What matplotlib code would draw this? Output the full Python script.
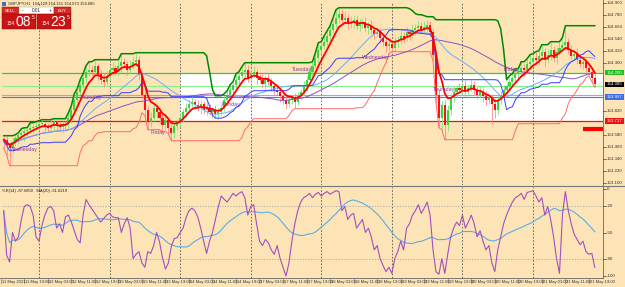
import numpy as np
import pandas as pd
import matplotlib
matplotlib.use("Agg")
import matplotlib.pyplot as plt
from matplotlib.patches import Rectangle

# ---------------- data ----------------
close = [153.53,153.48,153.45,153.51,153.55,153.58,153.60,153.62,153.63,153.65,153.66,153.67,153.69,
         153.69,153.67,153.65,153.68,153.71,153.67,153.66,153.69,
         153.68,153.75,153.83,153.93,154.01,154.08,154.15,154.21,154.23,
         154.21,154.27,154.19,154.13,154.11,154.17,154.23,154.25,154.21,154.27,154.31,154.29,154.23,154.27,154.31,154.33,
         154.18,153.98,153.83,153.71,153.75,
         153.85,153.81,153.75,153.68,153.73,
         153.65,153.60,153.67,153.71,
         153.75,153.81,153.85,153.89,153.91,
         153.88,153.85,153.89,153.83,153.85,153.81,153.83,153.79,
         153.81,153.85,153.93,
         153.98,154.03,154.08,154.13,154.17,154.21,154.23,
         154.15,154.19,154.21,154.15,
         154.13,154.09,154.15,154.11,154.07,154.03,154.01,153.97,153.93,153.89,153.93,153.95,153.91,153.97,
         154.01,154.07,154.13,154.21,154.27,154.35,154.43,154.47,154.51,154.57,154.63,154.69,154.75,154.79,
         154.73,154.75,154.69,154.71,154.73,154.67,154.69,154.71,154.65,154.67,154.63,154.59,154.61,
         154.55,154.51,154.47,154.49,154.45,154.51,154.53,
         154.57,154.55,154.61,154.59,154.63,154.65,154.67,154.63,154.66,154.68,
         154.61,154.38,153.98,153.75,153.88,153.68,
         153.83,153.95,154.01,154.05,154.03,154.07,154.01,154.05,154.08,154.03,153.98,154.01,153.97,153.93,153.95,153.89,153.83,153.93,
         153.98,154.03,154.07,154.11,154.15,154.19,154.21,154.25,154.23,154.29,154.31,154.35,154.33,
         154.37,154.41,154.33,154.38,154.43,154.35,154.41,154.45,154.48,154.51,
         154.43,154.37,154.39,154.33,154.29,154.31,154.25,154.21,154.15,154.085]

# wick lengths in price points (1 = 0.01)
wick_up = [3,4,2,5,3,2,4,3,2,5,3,4,3,
           4,2,3,5,3,2,4,3,
           3,5,4,6,3,5,4,6,8,
           5,6,3,4,7,5,4,6,3,5,8,4,3,6,5,7,
           4,3,5,4,6,
           5,3,4,6,4,
           3,4,5,3,
           4,3,5,4,6,
           3,5,4,3,6,4,3,5,
           4,3,6,
           4,5,3,6,4,5,7,
           5,4,6,3,
           4,6,3,5,4,3,5,4,3,6,4,3,5,4,
           3,5,4,6,4,5,7,4,6,5,4,6,8,6,
           5,7,4,6,5,4,6,3,5,4,6,3,5,
           4,3,5,4,3,5,4,
           6,4,5,3,6,4,5,4,6,5,
           4,3,5,6,4,5,
           5,4,6,3,5,4,6,3,5,4,3,6,4,5,3,4,6,5,
           4,5,3,6,4,5,3,6,4,5,7,4,6,
           5,7,4,6,8,4,5,6,7,16,
           4,5,3,6,4,5,3,4,3,4]
wick_dn = [8,10,18,5,4,6,4,8,5,3,5,4,3,
           3,5,4,3,6,4,3,5,
           4,3,5,3,6,4,3,5,4,
           4,3,6,4,5,3,4,5,3,4,6,3,5,4,3,4,
           5,4,6,8,5,
           4,6,5,7,5,
           6,8,5,4,
           5,4,6,3,4,
           4,3,6,4,5,3,6,4,
           5,4,3,
           3,4,5,3,4,3,5,
           4,5,3,6,
           3,4,6,3,5,4,3,6,4,5,3,4,6,3,
           4,3,5,3,4,3,5,4,3,4,5,3,4,5,
           4,3,5,4,6,3,5,4,3,6,4,5,3,
           5,4,6,5,4,3,5,
           4,5,3,6,4,5,3,4,3,4,
           4,6,8,10,12,15,
           6,5,4,6,3,5,4,6,3,5,4,3,6,5,4,20,8,4,
           4,3,5,4,3,5,4,3,6,4,5,3,4,
           5,4,6,3,5,4,6,3,4,5,
           4,3,5,4,3,5,4,3,4,3]

# Williams %R(14) values
wpr = [-25,-76,-84,-50,-60,-55,-35,-20,-18,-20,-30,-55,-60,-42,-30,-22,-20,-25,-45,-40,
       -50,-32,-30,-38,-48,-58,-62,-30,-12,-18,-23,-28,-33,-38,-34,-30,-28,-32,-33,-33,
       -50,-40,-33,-45,-80,-75,-72,-85,-90,-72,-74,-65,-50,-61,-79,-92,-85,-66,-57,-56,
       -50,-45,-33,-25,-22,-25,-32,
       -45,-60,-74,-60,-50,
       -35,-20,-8,-12,
       -15,-10,-5,-8,-5,-3,-10,-30,-20,-18,-40,
       -60,-65,-58,-62,-70,-75,-65,-80,
       -90,-100,-85,-60,
       -40,-25,-15,-10,-8,-5,-10,-6,-4,-8,-5,-3,-6,-4,-2,-3,
       -25,-20,-35,-30,-28,-45,-40,-35,-50,-45,-55,-70,-65,
       -80,-88,-95,-90,-97,-80,-72,
       -60,-70,-45,-40,-30,-25,-18,-28,-22,-15,
       -30,-70,-95,-98,-80,-97,
       -75,-55,-45,-38,-42,-30,-45,-38,-30,-40,-55,-48,-60,-70,-65,-85,-95,-70,
       -55,-40,-30,-22,-15,-10,-8,-5,-12,-4,-3,-2,-8,
       -15,-10,-30,-20,-35,-55,-80,-97,-30,-3,
       -25,-40,-52,-58,-64,-60,-72,-75,-74,-90]

time_labels = ["11 May 2021","11 May 19:00","12 May 03:00","12 May 11:00","12 May 19:00",
               "13 May 03:00","13 May 11:00","13 May 19:00","14 May 03:00","14 May 11:00",
               "14 May 19:00","17 May 03:00","17 May 11:00","17 May 19:00","18 May 03:00",
               "18 May 11:00","18 May 19:00","19 May 03:00","19 May 11:00","19 May 19:00",
               "20 May 03:00","20 May 11:00","20 May 19:00","21 May 03:00","21 May 11:00",
               "21 May 19:00"]
day_starts = [12, 36, 60, 84, 108, 132, 156, 180, 204]
day_names = ["Wednesday", "Thursday", "Friday", "Monday", "Tuesday", "Wednesday", "Thursday", "Friday"]
day_name_price = [153.43, 153.95, 153.60, 153.88, 154.23, 154.35, 154.03, 154.23]

price_ticks = [154.900,154.780,154.660,154.540,154.420,154.300,153.820,153.580,153.460,153.340,153.220,153.100]
level_green = 154.200
level_lgreen = 154.067
level_gray = 153.977
level_blue = 153.957
level_red = 153.717
last_price = 154.085
wpr_ticks = [0, -20, -50, -80, -100]

# ---------------- preparation ----------------
n = min(len(close), len(wick_up), len(wick_dn))
close = np.array(close[:n])
opn = np.r_[close[0] + 0.01, close[:-1]]
hi = np.maximum(opn, close) + np.array(wick_up[:n]) / 100
lo = np.minimum(opn, close) - np.array(wick_dn[:n]) / 100
idx = np.arange(n)
s = pd.Series(close)
red_ma = s.ewm(span=6).mean()
upper = pd.Series(hi).rolling(24, min_periods=1).max()
lower = pd.Series(lo).rolling(24, min_periods=1).min()
mid = (upper + lower) / 2
lblue = s.rolling(24, min_periods=1).mean()
purp = s.rolling(48, min_periods=1).mean()
wpr = np.array(wpr[:n], dtype=float)
wpr_ma = pd.Series(wpr).rolling(20, min_periods=1).mean()

BG = "#fde4b6"
W, H = 625, 287
fig = plt.figure(figsize=(W / 100, H / 100), dpi=100)
fig.patch.set_facecolor(BG)
plt.rcParams['font.family'] = ['Liberation Sans', 'DejaVu Sans']

def fx(px): return px / W
def fy(py): return 1 - py / H

XL = (-0.58, 203.8)
ax = fig.add_axes([fx(2), fy(185), fx(603) - fx(2), fy(2) - fy(185)])
ax.set_xlim(*XL); ax.set_ylim(153.077, 154.907)
ax2 = fig.add_axes([fx(2), fy(278), fx(603) - fx(2), fy(187) - fy(278)])
ax2.set_xlim(*XL); ax2.set_ylim(-102.3, 2.3)
for a in (ax, ax2):
    a.set_facecolor(BG)
    for sp in a.spines.values():
        sp.set_visible(False)
    a.set_xticks([]); a.set_yticks([])

# ---- main panel ----
ax.add_patch(Rectangle((60, level_red), 150, level_green - level_red, facecolor="white", edgecolor="none", zorder=0.5))
for d in day_starts:
    ax.axvline(d, color="#555555", lw=0.6, ls=(0, (2, 2)), zorder=0.8)
ax.axhline(level_green, color="#33cc33", lw=0.9, zorder=1)
ax.axhline(level_lgreen, color="#88ee88", lw=0.8, zorder=1)
ax.axhline(level_gray, color="#a8a8c8", lw=0.8, zorder=1)
ax.axhline(level_blue, color="#5070ff", lw=0.8, zorder=1)
ax.axhline(level_red, color="#ee1111", lw=0.9, zorder=1)

upc = close >= opn
ax.vlines(idx, lo, hi, colors=np.where(upc, "#80e080", "#ff8a8a"), lw=0.6, zorder=3)
ax.bar(idx, np.maximum(np.abs(close - opn), 0.006), bottom=np.minimum(opn, close), width=0.72,
       color=np.where(upc, "#3ad63a", "#ff1010"), lw=0, zorder=4)

ax.plot(idx, lower, color="#ff6a6a", lw=0.7, zorder=5)
ax.plot(idx, purp, color="#9050c0", lw=0.7, zorder=5)
ax.plot(idx, lblue, color="#6aaeff", lw=0.7, zorder=5)
ax.plot(idx, mid, color="#3a3aff", lw=0.7, zorder=5)
ax.plot(idx, upper, color="#008800", lw=1.1, zorder=5)
ax.plot(idx, red_ma, color="#ff0000", lw=1.3, zorder=6)

for d, name, p in zip(day_starts, day_names, day_name_price):
    ax.text(d - 10, p, name, color="#8a3aa0", fontsize=3.8, va="center", ha="left", zorder=7)

ax.plot([197, 204], [153.64, 153.64], color="#ff0000", lw=3, solid_capstyle="butt", zorder=7)

# ---- indicator panel ----
for d in day_starts:
    ax2.axvline(d, color="#555555", lw=0.6, ls=(0, (2, 2)), zorder=0.8)
for lv in (-20, -80):
    ax2.axhline(lv, color="#a0a0a0", lw=0.5, ls=(0, (2, 2)), zorder=0.8)
ax2.plot(idx, wpr_ma, color="#5aaee6", lw=0.8, zorder=3)
ax2.plot(idx, wpr, color="#a050c0", lw=0.8, zorder=4)

# ---- overlay for axis labels and decorations ----
ov = fig.add_axes([0, 0, 1, 1])
ov.set_xlim(0, W); ov.set_ylim(H, 0); ov.axis("off"); ov.patch.set_alpha(0)

def py_price(p):
    return 2 + (154.907 - p) / (154.907 - 153.077) * 183

def py_wpr(v):
    return 187 + (2.3 - v) / 104.6 * 91

def px_bar(i):
    return 2 + (i - XL[0]) / (XL[1] - XL[0]) * 601

ov.plot([603, 603], [0, 278], color="#666666", lw=0.6)
ov.plot([0, W], [186, 186], color="#777777", lw=0.8)
ov.plot([0, 603], [278, 278], color="#666666", lw=0.6)

for p in price_ticks:
    y = py_price(p)
    ov.plot([603, 606], [y, y], color="#444444", lw=0.5)
    ov.text(607, y, f"{p:.3f}", fontsize=3.2, va="center", ha="left", color="#333333")

def box_label(p, txt, fc):
    y = py_price(p)
    ov.add_patch(Rectangle((605, y - 2.6), 19, 5.2, facecolor=fc, edgecolor="none"))
    ov.text(607, y, txt, fontsize=3.2, va="center", ha="left", color="white")

box_label(level_green, f"{level_green:.3f}", "#22bb22")
box_label(last_price, f"{last_price:.3f}", "#000000")
box_label(level_blue, f"{level_blue:.3f}", "#3f6cf0")
box_label(level_red, f"{level_red:.3f}", "#ee1111")

for v in wpr_ticks:
    y = py_wpr(v)
    ov.plot([603, 606], [y, y], color="#444444", lw=0.5)
    ov.text(607, y, f"{v}", fontsize=3.2, va="center", ha="left", color="#333333")

for k, lab in enumerate(time_labels):
    x = px_bar(k * 8) - 3
    ov.plot([x, x], [279, 283], color="#555555", lw=0.4)
    ov.text(x + 1, 282.5, lab, fontsize=3.0, va="center", ha="left", color="#333333")

# header text
ov.text(8, 3.5, "GBPJPY,H1  154.129 154.151 154.073 154.085", fontsize=3.0, va="center", ha="left", color="#222222")
ov.add_patch(Rectangle((2, 1.5), 4, 4, facecolor="#4070c0", edgecolor="none"))
ov.text(2, 191, "%R(14) -87.6850   MA(20) -61.0219", fontsize=3.0, va="center", ha="left", color="#222222")

# one-click trading panel
ov.add_patch(Rectangle((2, 7), 17, 7, facecolor="#d42a2a", edgecolor="#a00000", lw=0.3))
ov.text(10.5, 10.5, "SELL", fontsize=3.2, color="white", ha="center", va="center")
ov.add_patch(Rectangle((19, 7), 35, 7, facecolor="white", edgecolor="#999999", lw=0.3))
ov.text(23, 10.5, "-", fontsize=3.5, color="#333333", ha="center", va="center")
ov.text(36.5, 10.5, "0.01", fontsize=3.4, color="#222222", ha="center", va="center")
ov.text(50, 10.5, "+", fontsize=3.5, color="#333333", ha="center", va="center")
ov.add_patch(Rectangle((54, 7), 17, 7, facecolor="#d42a2a", edgecolor="#a00000", lw=0.3))
ov.text(62.5, 10.5, "BUY", fontsize=3.2, color="white", ha="center", va="center")
for x0, big in ((2, "08"), (37, "23")):
    ov.add_patch(Rectangle((x0, 14), 34, 15, facecolor="#c81414", edgecolor="#900000", lw=0.3))
    ov.text(x0 + 9, 23.5, "154", fontsize=3.4, color="white", ha="center", va="center")
    ov.text(x0 + 21.5, 21.5, big, fontsize=10, color="white", ha="center", va="center")
    ov.text(x0 + 31, 17.5, "5", fontsize=3.4, color="white", ha="center", va="center")

fig.savefig("out.png", dpi=100, facecolor=BG)
